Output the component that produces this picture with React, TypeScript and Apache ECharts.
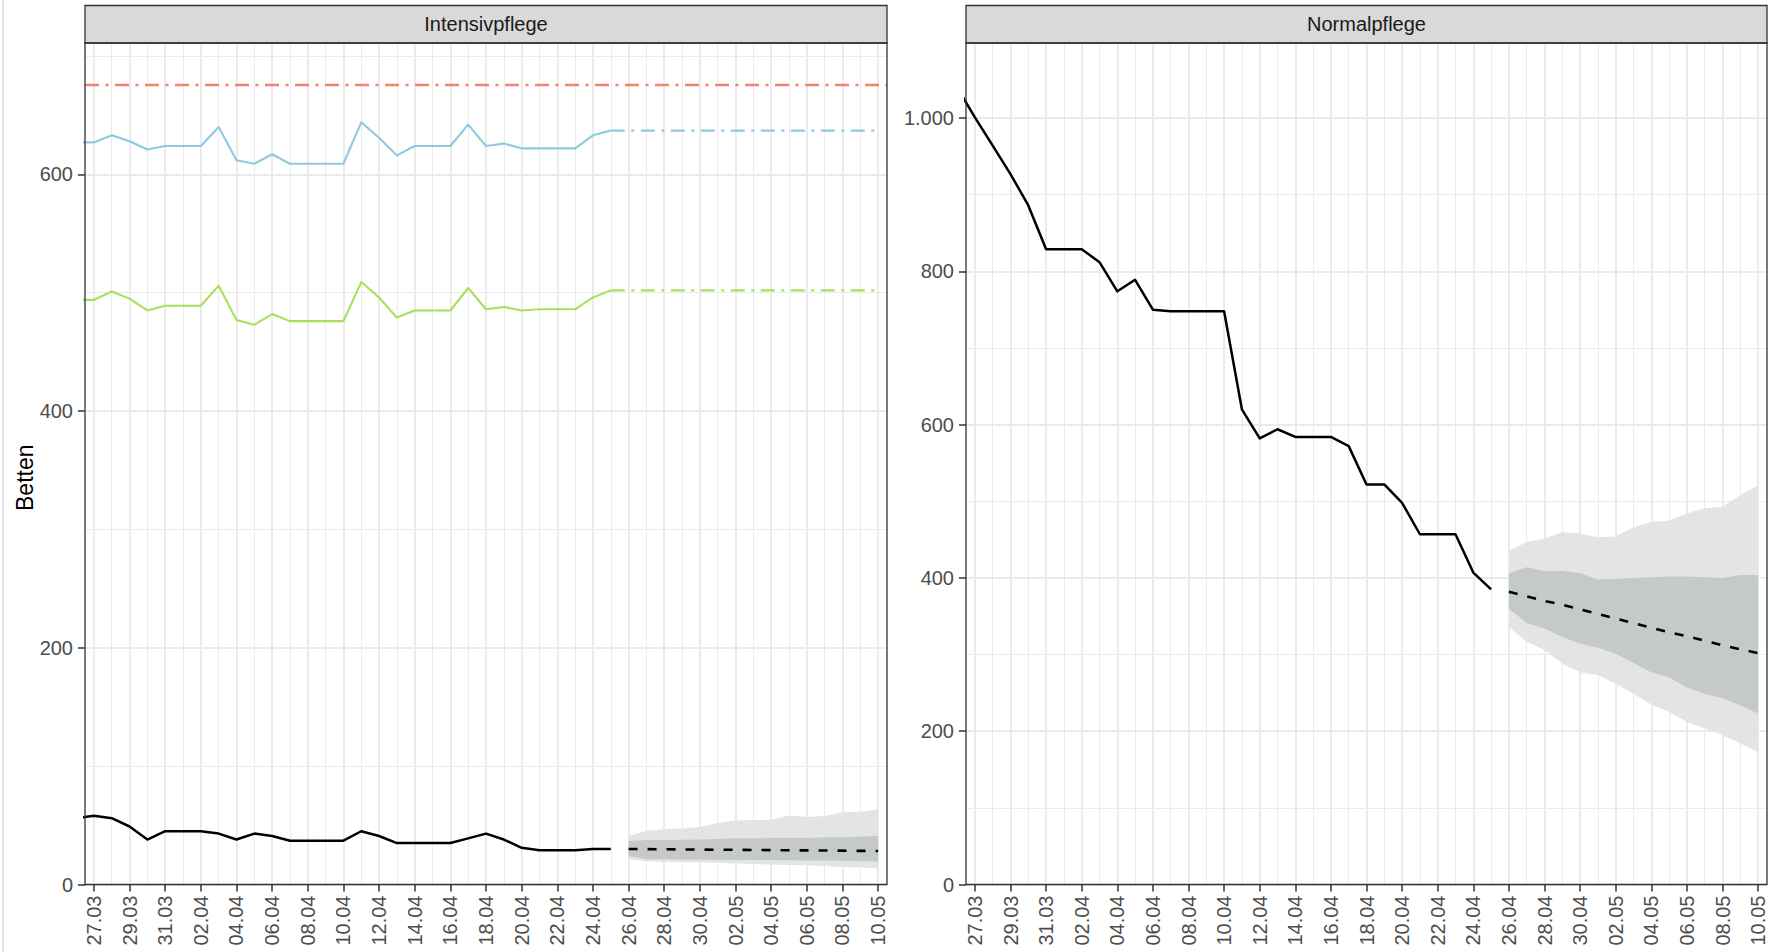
import React, { useEffect, useRef } from "react";
import * as echarts from "echarts";

// ---------- data ----------
const dates = [
  "26.03", "27.03", "28.03", "29.03", "30.03", "31.03",
  "01.04", "02.04", "03.04", "04.04", "05.04", "06.04", "07.04", "08.04", "09.04", "10.04",
  "11.04", "12.04", "13.04", "14.04", "15.04", "16.04", "17.04", "18.04", "19.04", "20.04",
  "21.04", "22.04", "23.04", "24.04", "25.04", "26.04", "27.04", "28.04", "29.04", "30.04",
  "01.05", "02.05", "03.05", "04.05", "05.05", "06.05", "07.05", "08.05", "09.05", "10.05",
];

// observed 26.03 .. 25.04
const intensivBelegt = [
  56, 58, 56, 49, 38, 45, 45, 45, 43, 38, 43, 41, 37, 37, 37, 37,
  45, 41, 35, 35, 35, 35, 39, 43, 38, 31, 29, 29, 29, 30, 30,
];
const intensivKapazitaet = [
  627, 627, 633, 628, 621, 624, 624, 624, 640, 612, 609, 617, 609, 609, 609, 609,
  644, 631, 616, 624, 624, 624, 642, 624, 626, 622, 622, 622, 622, 633, 637,
];
const intensivSchwelle = [
  494, 494, 501, 495, 485, 489, 489, 489, 506, 477, 473, 482, 476, 476, 476, 476,
  509, 496, 479, 485, 485, 485, 504, 486, 488, 485, 486, 486, 486, 496, 502,
];
const intensivMaximum = 676;
const intensivKapazitaetPrognose = 637;
const intensivSchwellePrognose = 502;

const normalBelegt = [
  1040, 1001, 964, 927, 886, 829, 829, 829, 812, 774, 789, 750, 748, 748, 748, 748,
  620, 582, 594, 584, 584, 584, 572, 522, 522, 498, 457, 457, 457, 407, 385,
];

// forecast 26.04 .. 10.05
const intensivPrognose = [30.0, 29.9, 29.8, 29.6, 29.5, 29.4, 29.3, 29.2, 29.0, 28.9, 28.8, 28.7, 28.6, 28.4, 28.3];
const intensivOben90 = [41, 45.4, 46.6, 47.4, 48.5, 52, 54, 54.5, 54.7, 58.4, 57, 57.8, 61, 61.5, 63.5];
const intensivOben50 = [36.7, 37.6, 37.6, 37.8, 38, 38.5, 39, 39, 39.2, 39.3, 39.5, 39.7, 40, 40.5, 41];
const intensivUnten50 = [24, 21.3, 21.3, 21.2, 21, 20.8, 20.8, 20.8, 20.5, 20.5, 20.2, 20.2, 20, 19.7, 19.4];
const intensivUnten90 = [21.7, 19.4, 19.2, 19, 18.8, 18.3, 17.8, 17.4, 16.9, 16.4, 16.2, 15.6, 14.8, 14.3, 13.7];

const normalPrognose = [382, 376, 370, 365, 359, 353, 347, 341, 335, 329, 324, 318, 312, 307, 302];
const normalOben90 = [435, 447, 451, 460, 458, 453, 454, 466, 473, 475, 484, 491, 493, 508, 521];
const normalOben50 = [406, 414, 409, 409, 406, 398, 399, 400, 401, 402, 402, 401, 400, 404, 404];
const normalUnten50 = [360, 341, 334, 323, 314, 309, 301, 289, 277, 270, 257, 249, 243, 234, 223];
const normalUnten90 = [336, 317, 306, 288, 277, 273, 262, 249, 235, 225, 212, 204, 195, 184, 173];

const intensivYTicks = [0, 200, 400, 600];
const normalYTicks = [0, 200, 400, 600, 800, 1000];

// ---------- styling ----------
const FONT = '"Liberation Sans", Arial, Helvetica, sans-serif';
const GRID_TOP = 43;
const GRID_H = 841.5;
const panels = [
  { left: 85, width: 802, yMax: 711, title: "Intensivpflege" },
  { left: 966, width: 801, yMax: 1098, title: "Normalpflege" },
];
const C_RED = "#F5826F";
const C_BLUE = "#8FC9DF";
const C_GREEN = "#A8E05C";
const C_BAND_OUT = "#E3E4E3";
const C_BAND_IN = "#C6CAC6";
const DOTDASH = [14, 6.5, 3, 6.5];

const fmtDe = (v: number) => {
  const s = String(Math.round(v));
  return s.replace(/\B(?=(\d{3})+(?!\d))/g, ".");
};

const obsIdx = intensivBelegt.map((_, k) => k);
const fcStart = dates.indexOf("26.04");
const fcIdx = intensivPrognose.map((_, k) => fcStart + k);
const lastObs = dates.indexOf("25.04");
const lastIdx = dates.length - 1;
const majorX = dates.map((_, i) => i).filter((i) => i % 2 === 1);
const minorX = dates.map((_, i) => i).filter((i) => i >= 1);

function xAxes(g: number) {
  return [
    {
      type: "value", gridIndex: g, min: 0.5, max: lastIdx + 0.5,
      axisLine: { show: false },
      axisTick: { show: true, customValues: majorX, length: 7, lineStyle: { color: "#333333", width: 1.5 } },
      axisLabel: {
        customValues: majorX, formatter: (v: number) => dates[Math.round(v)] ?? "",
        rotate: 90, fontSize: 20, color: "#4D4D4D", fontFamily: FONT, margin: 11,
      },
      splitLine: { show: true, lineStyle: { color: "#EBEBEB", width: 2 } },
    },
    {
      type: "value", gridIndex: g, min: 0.5, max: lastIdx + 0.5,
      axisLine: { show: false },
      axisTick: { show: false, customValues: minorX },
      axisLabel: { show: false, customValues: minorX },
      splitLine: { show: true, lineStyle: { color: "#EBEBEB", width: 1 } },
    },
  ];
}

function yAxes(g: number, max: number, ticks: number[]) {
  const minor: number[] = [];
  for (let v = 100; v < max; v += 200) minor.push(v);
  return [
    {
      type: "value", gridIndex: g, min: 0, max,
      axisLine: { show: false },
      axisTick: { show: true, customValues: ticks, length: 7, lineStyle: { color: "#333333", width: 1.5 } },
      axisLabel: { customValues: ticks, fontSize: 20, color: "#4D4D4D", fontFamily: FONT, margin: 12, formatter: fmtDe },
      splitLine: { show: true, lineStyle: { color: "#EBEBEB", width: 2 } },
    },
    {
      type: "value", gridIndex: g, min: 0, max,
      axisLine: { show: false },
      axisTick: { show: false, customValues: minor },
      axisLabel: { show: false, customValues: minor },
      splitLine: { show: true, lineStyle: { color: "#EBEBEB", width: 1 } },
    },
  ];
}

function band(xi: number, yi: number, upper: number[], lower: number[], color: string, z: number) {
  return {
    type: "custom", xAxisIndex: xi, yAxisIndex: yi, silent: true, z,
    data: [[fcIdx[0], lower[0]]],
    renderItem: (params: any, api: any) => {
      const pts: number[][] = [];
      upper.forEach((v, k) => pts.push(api.coord([fcIdx[k], v])));
      for (let k = lower.length - 1; k >= 0; k--) pts.push(api.coord([fcIdx[k], lower[k]]));
      return { type: "polygon", shape: { points: pts }, style: { fill: color } };
    },
  };
}

function line(xi: number, yi: number, data: number[][], color: string, width: number, type: any, z = 5) {
  return {
    type: "line", xAxisIndex: xi, yAxisIndex: yi, data, symbol: "none", showSymbol: false,
    silent: true, clip: true, z,
    lineStyle: { color, width, type, cap: "butt", join: "round" },
  };
}

const pairs = (idx: number[], vals: number[]) => vals.map((v, k) => [idx[k], v]);

export default function App() {
  const ref = useRef<HTMLDivElement>(null);
  useEffect(() => {
    if (!ref.current) return;
    const chart = echarts.init(ref.current, undefined, { renderer: "svg" });
    const option: any = {
      animation: false,
      backgroundColor: "#FFFFFF",
      grid: panels.map((p) => ({ left: p.left, top: GRID_TOP, width: p.width, height: GRID_H, containLabel: false })),
      xAxis: [...xAxes(0), ...xAxes(1)],
      yAxis: [...yAxes(0, panels[0].yMax, intensivYTicks), ...yAxes(1, panels[1].yMax, normalYTicks)],
      series: [
        // Intensivpflege
        band(0, 0, intensivOben90, intensivUnten90, C_BAND_OUT, 2),
        band(0, 0, intensivOben50, intensivUnten50, C_BAND_IN, 3),
        {
          type: "line", xAxisIndex: 0, yAxisIndex: 0, data: [], silent: true, z: 4,
          markLine: {
            silent: true, symbol: ["none", "none"], label: { show: false },
            lineStyle: { color: C_RED, width: 2.3, type: DOTDASH },
            data: [{ yAxis: intensivMaximum }],
          },
        },
        line(0, 0, pairs(obsIdx, intensivKapazitaet), C_BLUE, 2.1, "solid"),
        line(0, 0, [[lastObs, intensivKapazitaetPrognose], [lastIdx, intensivKapazitaetPrognose]], C_BLUE, 2.3, DOTDASH),
        line(0, 0, pairs(obsIdx, intensivSchwelle), C_GREEN, 2.1, "solid"),
        line(0, 0, [[lastObs, intensivSchwellePrognose], [lastIdx, intensivSchwellePrognose]], C_GREEN, 2.3, DOTDASH),
        line(0, 0, pairs(obsIdx, intensivBelegt), "#000000", 2.5, "solid"),
        line(0, 0, pairs(fcIdx, intensivPrognose), "#000000", 2.6, [9, 10]),
        // Normalpflege
        band(2, 2, normalOben90, normalUnten90, C_BAND_OUT, 2),
        band(2, 2, normalOben50, normalUnten50, C_BAND_IN, 3),
        line(2, 2, pairs(obsIdx, normalBelegt), "#000000", 2.5, "solid"),
        line(2, 2, pairs(fcIdx, normalPrognose), "#000000", 2.6, [9, 10]),
      ],
      graphic: [
        { type: "line", shape: { x1: 3, y1: 0, x2: 3, y2: 952 }, style: { stroke: "#CCCCCC", lineWidth: 1 }, z: 100 },
        ...panels.flatMap((p) => [
          {
            type: "rect", z: 100,
            shape: { x: p.left, y: 5.5, width: p.width, height: GRID_TOP - 5.5 },
            style: { fill: "#D9D9D9", stroke: "#333333", lineWidth: 1.3 },
          },
          {
            type: "text", z: 101, x: p.left + p.width / 2, y: (5.5 + GRID_TOP) / 2,
            style: { text: p.title, fontSize: 20, fontFamily: FONT, fill: "#1A1A1A", align: "center", verticalAlign: "middle" },
          },
          {
            type: "rect", z: 100,
            shape: { x: p.left, y: GRID_TOP, width: p.width, height: GRID_H },
            style: { fill: "none", stroke: "#333333", lineWidth: 1.3 },
          },
        ]),
        {
          type: "text", z: 101, x: 25, y: GRID_TOP + GRID_H / 2 + 14, rotation: Math.PI / 2,
          style: { text: "Betten", fontSize: 23, fontFamily: FONT, fill: "#000000", align: "center", verticalAlign: "middle" },
        },
      ],
    };
    chart.setOption(option);
    return () => chart.dispose();
  }, []);
  return <div ref={ref} style={{ position: "absolute", left: 0, top: 0, width: 1769, height: 952 }} />;
}
